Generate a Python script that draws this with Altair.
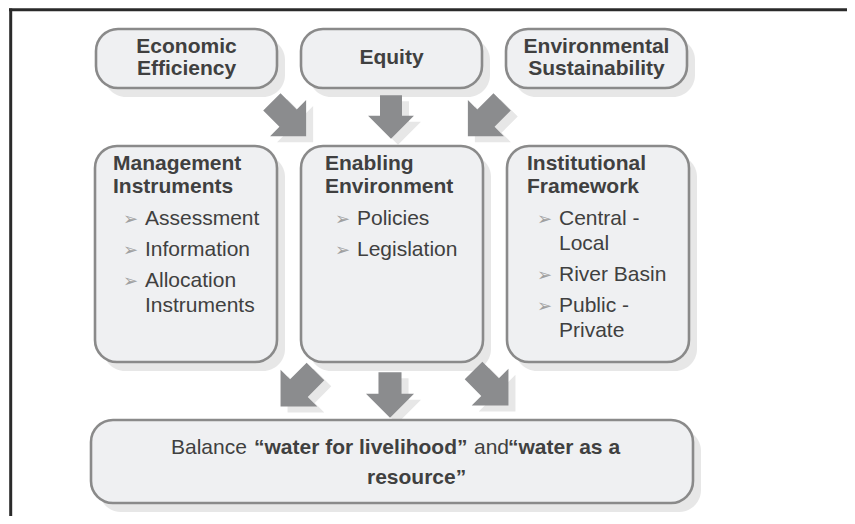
import altair as alt
import pandas as pd

# ---------------- content ----------------
top_labels = [["Economic", "Efficiency"], ["Equity"], ["Environmental", "Sustainability"]]
mid_titles = [["Management", "Instruments"], ["Enabling", "Environment"], ["Institutional", "Framework"]]
mid_items = [
    [["Assessment"], ["Information"], ["Allocation", "Instruments"]],
    [["Policies"], ["Legislation"]],
    [["Central -", "Local"], ["River Basin"], ["Public -", "Private"]],
]
bottom_parts = ["Balance", "\u201cwater for livelihood\u201d", "and", "\u201cwater as a", "resource\u201d"]
bottom_weights = ["normal", "bold", "normal", "bold", "bold"]
bullet_glyph = "\u27a2"

# ---------------- layout (pixel positions in the picture) ----------------
W, H = 839, 508
top_box_x = [96, 301, 506]
top_box_w = 181
top_box_y = (29, 88)
mid_box_x = [95, 301, 507]
mid_box_w = 182
mid_box_y = (146, 362)
bottom_box = (91, 693, 420, 503)
shadow_dx, shadow_dy = 8, 9

title_x = [113, 325, 527]
title_y0, title_dy = 164, 23
item_y0, item_line_dy, item_gap_dy = 219, 25, 31

bottom_x = [171, 254, 474, 508, 367]
bottom_y = [448, 448, 448, 448, 478]

# arrows: centre x, centre y, rotation, size
arrow_cx = [289, 391, 485, 298, 390, 491]
arrow_cy = [119, 117, 119, 389, 395, 388]
arrow_angle = [315, 0, 45, 45, 0, 315]
arrow_size = [2600, 2100, 2600, 2700, 2304, 2700]
arrow_path = "M -0.48 -0.95 L 0.48 -0.95 L 0.48 -0.05 L 1 -0.05 L 0 0.95 L -1 -0.05 L -0.48 -0.05 Z"

FONT = "Liberation Sans"
TEXT_COLOR = "#404040"
BOX_FILL = "#eff0f2"
BOX_STROKE = "#8a8a8a"
SHADOW = "#e7e7e7"
ARROW = "#8b8c8e"

# ---------------- tables ----------------
boxes = []
for x0 in top_box_x:
    boxes.append(dict(x=x0, x2=x0 + top_box_w, y=top_box_y[0], y2=top_box_y[1]))
for x0 in mid_box_x:
    boxes.append(dict(x=x0, x2=x0 + mid_box_w, y=mid_box_y[0], y2=mid_box_y[1]))
boxes.append(dict(x=bottom_box[0], x2=bottom_box[1], y=bottom_box[2], y2=bottom_box[3]))
boxes_df = pd.DataFrame(boxes)
shadow_df = boxes_df.copy()
shadow_df[["x", "x2"]] += shadow_dx
shadow_df[["y", "y2"]] += shadow_dy

# top box labels (centred)
top_rows = []
ymid = (top_box_y[0] + top_box_y[1]) / 2
for x0, lines in zip(top_box_x, top_labels):
    n = len(lines)
    for i, t in enumerate(lines):
        top_rows.append(dict(x=x0 + top_box_w / 2, y=ymid - 1 + (i - (n - 1) / 2) * 22, t=t))
top_df = pd.DataFrame(top_rows)

# middle titles and bullets
title_rows, item_rows, bullet_rows = [], [], []
for tx, titles, items in zip(title_x, mid_titles, mid_items):
    for i, t in enumerate(titles):
        title_rows.append(dict(x=tx, y=title_y0 + i * title_dy, t=t))
    y = item_y0
    for lines in items:
        bullet_rows.append(dict(x=tx + 10, y=y + 1, t=bullet_glyph))
        for j, t in enumerate(lines):
            item_rows.append(dict(x=tx + 32, y=y, t=t))
            if j < len(lines) - 1:
                y += item_line_dy
        y += item_gap_dy
title_df = pd.DataFrame(title_rows)
item_df = pd.DataFrame(item_rows)
bullet_df = pd.DataFrame(bullet_rows)

bottom_df = pd.DataFrame(dict(x=bottom_x, y=bottom_y, t=bottom_parts, w=bottom_weights))

arrow_df = pd.DataFrame(dict(x=arrow_cx, y=arrow_cy, a=arrow_angle, s=arrow_size))
arrow_sh_df = arrow_df.copy()
arrow_sh_df["x"] += 7
arrow_sh_df["y"] += 6

frame_df = pd.DataFrame([
    dict(x=9, x2=847, y=9.7, y2=9.7),
    dict(x=10.7, x2=10.7, y=8.5, y2=516),
])

# ---------------- encodings ----------------
xs = alt.Scale(domain=[8, 8 + W], nice=False, zero=False)
ys = alt.Scale(domain=[8, 8 + H], nice=False, zero=False, reverse=True)
X = alt.X("x:Q", scale=xs, axis=None)
Y = alt.Y("y:Q", scale=ys, axis=None)
X2 = alt.X2("x2:Q")
Y2 = alt.Y2("y2:Q")

box_shadow = alt.Chart(shadow_df).mark_rect(cornerRadius=22, fill=SHADOW).encode(x=X, x2=X2, y=Y, y2=Y2)
box_layer = alt.Chart(boxes_df).mark_rect(
    cornerRadius=22, fill=BOX_FILL, stroke=BOX_STROKE, strokeWidth=2.6
).encode(x=X, x2=X2, y=Y, y2=Y2)

arrow_shadow = alt.Chart(arrow_sh_df).mark_point(
    shape=arrow_path, filled=True, fill=SHADOW, opacity=1, strokeWidth=0
).encode(x=X, y=Y, angle=alt.Angle("a:Q", scale=None), size=alt.Size("s:Q", scale=None))
arrow_layer = alt.Chart(arrow_df).mark_point(
    shape=arrow_path, filled=True, fill=ARROW, opacity=1, strokeWidth=0
).encode(x=X, y=Y, angle=alt.Angle("a:Q", scale=None), size=alt.Size("s:Q", scale=None))

top_text = alt.Chart(top_df).mark_text(
    font=FONT, fontSize=21, fontWeight="bold", color=TEXT_COLOR, align="center", baseline="middle"
).encode(x=X, y=Y, text="t:N")
title_text = alt.Chart(title_df).mark_text(
    font=FONT, fontSize=21, fontWeight="bold", color=TEXT_COLOR, align="left", baseline="middle"
).encode(x=X, y=Y, text="t:N")
item_text = alt.Chart(item_df).mark_text(
    font=FONT, fontSize=21, color=TEXT_COLOR, align="left", baseline="middle"
).encode(x=X, y=Y, text="t:N")
bullet_text = alt.Chart(bullet_df).mark_text(
    font="DejaVu Sans", fontSize=18, color="#a0a0a0", align="left", baseline="middle"
).encode(x=X, y=Y, text="t:N")
bottom_reg = alt.Chart(bottom_df).transform_filter(alt.datum.w == "normal").mark_text(
    font=FONT, fontSize=21, color=TEXT_COLOR, align="left", baseline="middle"
).encode(x=X, y=Y, text="t:N")
bottom_bold = alt.Chart(bottom_df).transform_filter(alt.datum.w == "bold").mark_text(
    font=FONT, fontSize=21, fontWeight="bold", color=TEXT_COLOR, align="left", baseline="middle"
).encode(x=X, y=Y, text="t:N")

frame = alt.Chart(frame_df).mark_rule(color="#2a2a2a", strokeWidth=3).encode(x=X, x2=X2, y=Y, y2=Y2)

chart = alt.layer(
    box_shadow, arrow_shadow, box_layer, arrow_layer,
    top_text, title_text, item_text, bullet_text, bottom_reg, bottom_bold, frame,
).properties(
    width=W, height=H, padding=0, autosize=alt.AutoSizeParams(type="none")
).configure_view(stroke=None)

chart.save("out.html", embed_options={"renderer": "svg", "actions": False})
